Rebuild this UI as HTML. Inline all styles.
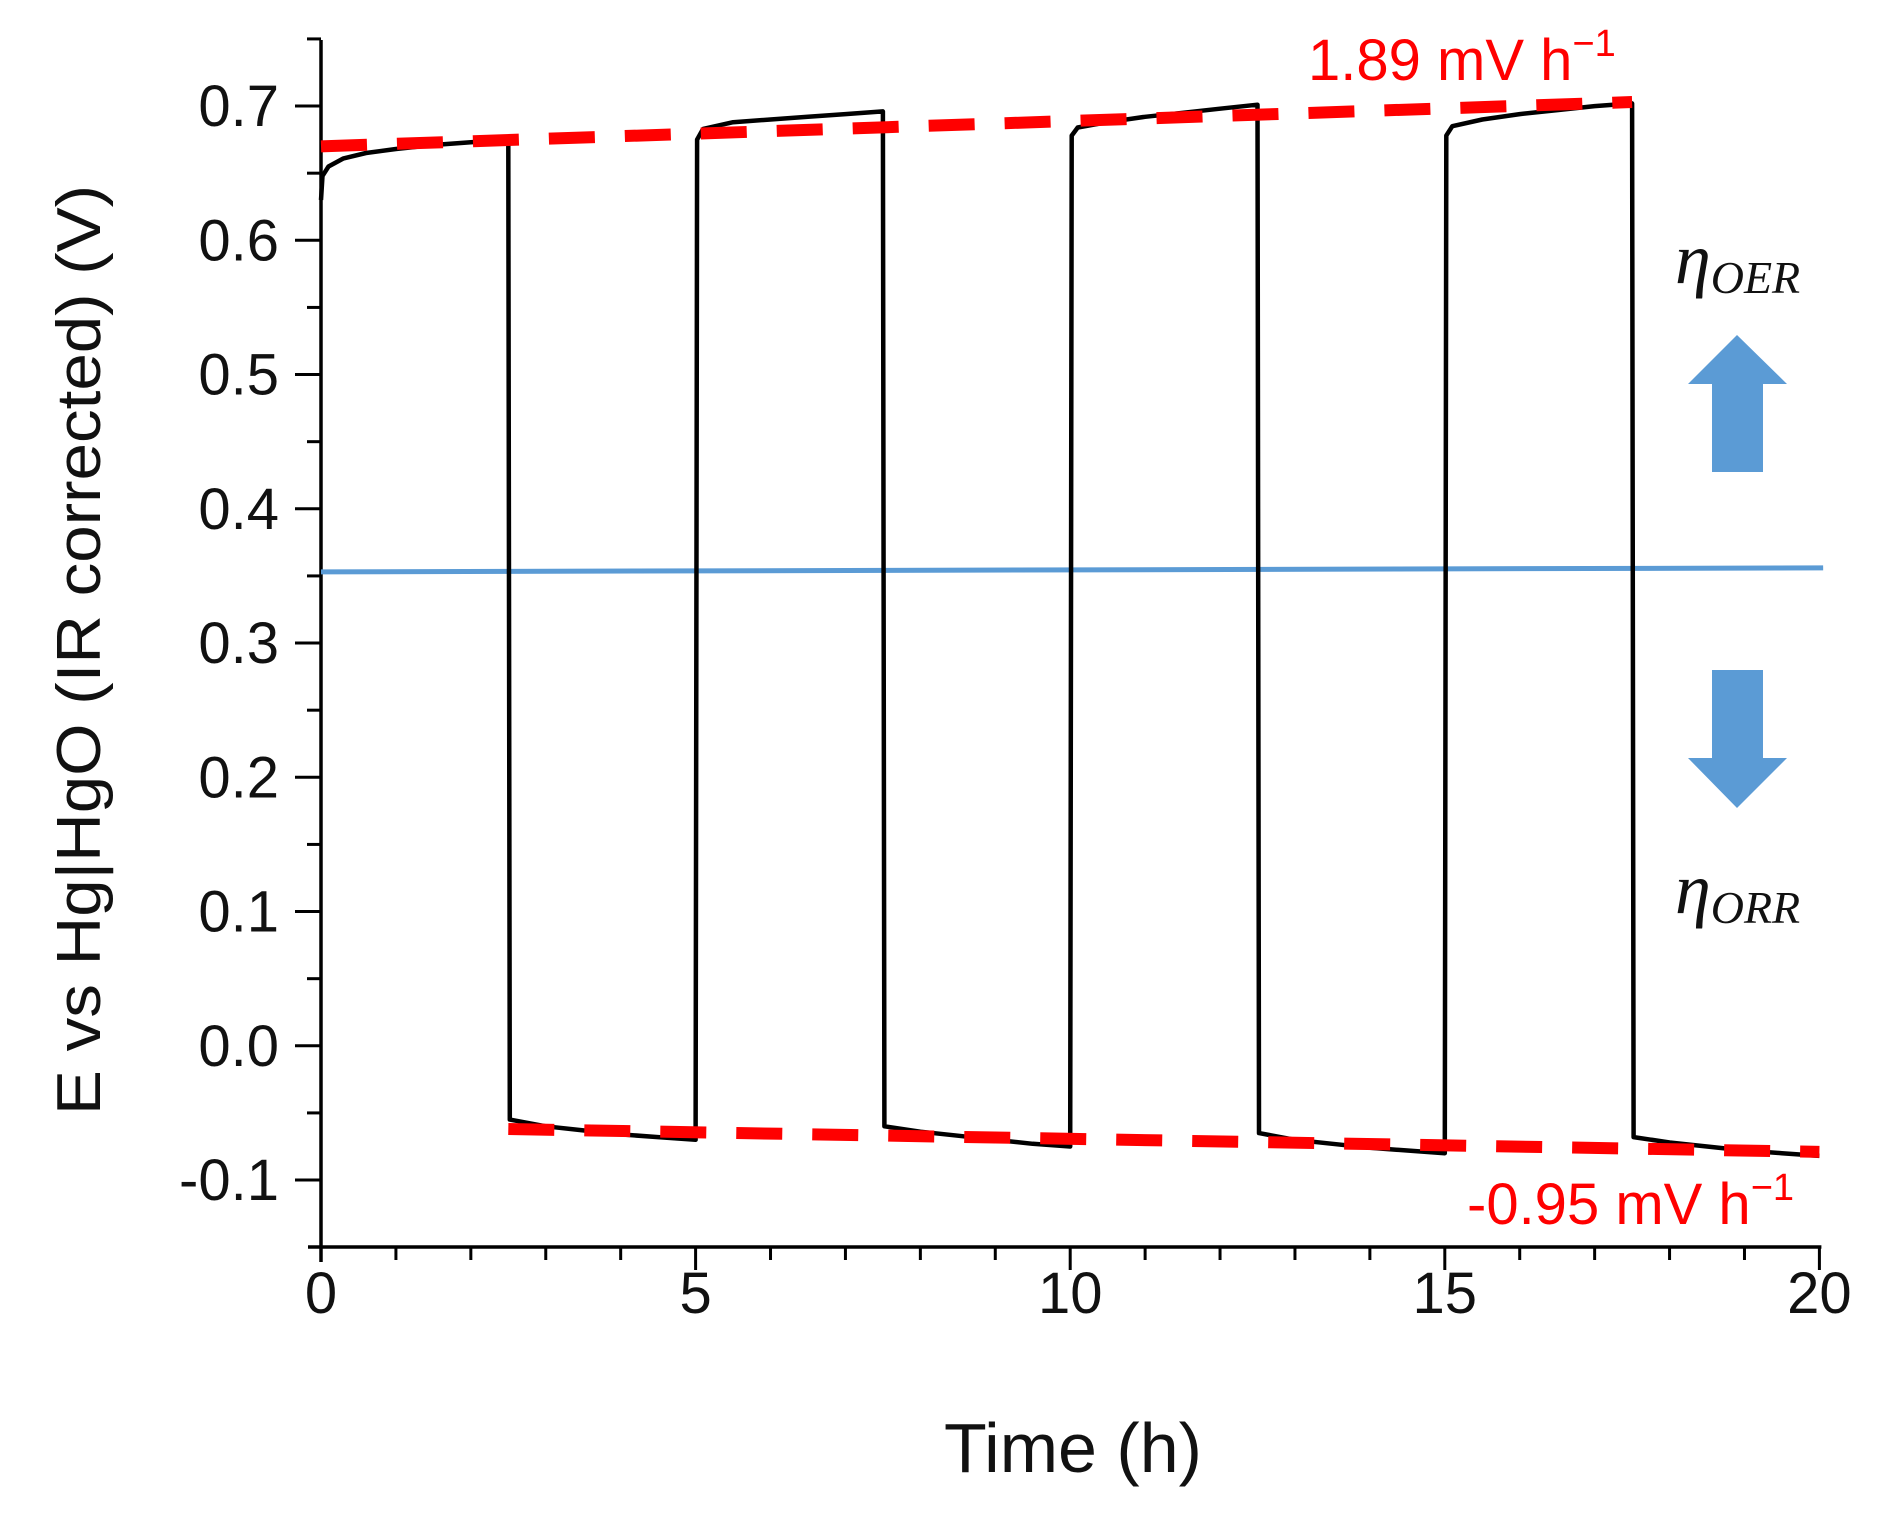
<!DOCTYPE html>
<html><head><meta charset="utf-8"><style>
html,body{margin:0;padding:0;background:#fff;}
svg{display:block;font-family:"Liberation Sans",sans-serif;}
</style></head><body>
<svg id="chart" width="1878" height="1522" viewBox="0 0 1878 1522">
<g id="axes"></g>
<g id="series"></g>
<text x="0" y="0" transform="translate(100,650) rotate(-90)" text-anchor="middle" font-size="62" textLength="930" lengthAdjust="spacingAndGlyphs" fill="#111">E vs Hg|HgO (IR corrected) (V)</text>
<text x="1073" y="1472" text-anchor="middle" font-size="70" fill="#111">Time (h)</text>
<text x="1308" y="80" font-size="58" fill="#f00">1.89 mV h<tspan dy="-24" font-size="38">−1</tspan></text>
<text x="1467" y="1224" font-size="58" fill="#f00">-0.95 mV h<tspan dy="-24" font-size="38">−1</tspan></text>
<text x="1675" y="283" font-family="Liberation Serif,serif" font-style="italic" font-size="72" fill="#111">η<tspan font-size="46" dy="10">OER</tspan></text>
<text x="1675" y="913" font-family="Liberation Serif,serif" font-style="italic" font-size="72" fill="#111">η<tspan font-size="46" dy="10">ORR</tspan></text>
<polygon points="1737,335 1787,384 1763,384 1763,472 1712,472 1712,384 1688,384" fill="#5b9bd5"/>
<polygon points="1712,670 1763,670 1763,758 1787,758 1737,808 1688,758 1712,758" fill="#5b9bd5"/>
</svg>
<script>
const times=[0,0.02,0.1,0.3,0.6,1,1.5,2,2.5, 2.52,3,3.5,4,4.5,5, 5.02,5.1,5.5,6,6.5,7,7.5, 7.52,8,8.5,9,9.5,10, 10.02,10.1,10.5,11,11.5,12,12.5, 12.52,13,13.5,14,14.5,15, 15.02,15.1,15.5,16,16.5,17,17.5, 17.52,18,18.5,19,19.5,20];
const potentials=[0.63,0.648,0.655,0.661,0.665,0.668,0.671,0.673,0.675, -0.055,-0.060,-0.063,-0.066,-0.068,-0.070, 0.675,0.683,0.688,0.690,0.692,0.694,0.696, -0.060,-0.064,-0.067,-0.070,-0.073,-0.075, 0.678,0.684,0.688,0.692,0.695,0.698,0.701, -0.065,-0.070,-0.073,-0.076,-0.078,-0.080, 0.678,0.685,0.690,0.694,0.697,0.700,0.702, -0.068,-0.072,-0.075,-0.078,-0.080,-0.082];
const oerFitT=[0,17.5];
const oerFitV=[0.670,0.703];
const orrFitT=[2.5,20];
const orrFitV=[-0.062,-0.079];
const refT=[0,20.05];
const refV=[0.353,0.356];
const xTicks=[0,5,10,15,20];
const xTickLabels=["0","5","10","15","20"];
const yTicks=[-0.1,0,0.1,0.2,0.3,0.4,0.5,0.6,0.7];
const yTickLabels=["-0.1","0.0","0.1","0.2","0.3","0.4","0.5","0.6","0.7"];

const NS="http://www.w3.org/2000/svg";
const X0=321,XPER=74.92,Y0=1045.8,YPER=1342.5;
function xs(t){return X0+t*XPER;}
function ys(v){return Y0-v*YPER;}
function mk(tag,attrs,parent){const e=document.createElementNS(NS,tag);for(const k in attrs)e.setAttribute(k,attrs[k]);parent.appendChild(e);return e;}
const axes=document.getElementById('axes');
const series=document.getElementById('series');

let a=mk('line',{x1:X0,y1:40,x2:X0,y2:1262,stroke:'#000','stroke-width':3.5},axes);


a=mk('line',{x1:308,y1:1247,x2:xs(20)+2,y2:1247,stroke:'#000','stroke-width':3.5},axes);



for(let t=1;t<=20;t++){
  const major=xTicks.includes(t);
  const tk=mk('line',{x1:xs(t),y1:1247,x2:xs(t),y2:major?1270:1260,stroke:'#000','stroke-width':3},axes);
  
  
}
xTicks.forEach((t,i)=>{
  const tx=mk('text',{x:xs(t),y:1313,'text-anchor':'middle','font-size':58,fill:'#111'},axes);
  tx.textContent=xTickLabels[i];
  
  
});
for(let k=-2;k<=15;k++){
  const v=k*0.05, major=(k%2===0);
  const tk=mk('line',{x1:major?295:307,y1:ys(v),x2:X0,y2:ys(v),stroke:'#000','stroke-width':3},axes);
  
  
}
yTicks.forEach((v,i)=>{
  const tx=mk('text',{x:279,y:ys(v)+20,'text-anchor':'end','font-size':58,fill:'#111'},axes);
  tx.textContent=yTickLabels[i];
  
  
});

let l=mk('line',{x1:xs(refT[0]),y1:ys(refV[0]),x2:xs(refT[1]),y2:ys(refV[1]),stroke:'#5b9bd5','stroke-width':5},series);



const d=times.map((t,i)=>(i?'L':'M')+xs(t).toFixed(1)+','+ys(potentials[i]).toFixed(1)).join(' ');
const p=mk('path',{d:d,fill:'none',stroke:'#000','stroke-width':4.5,'stroke-linejoin':'round'},series);



l=mk('line',{x1:xs(oerFitT[0]),y1:ys(oerFitV[0]),x2:xs(oerFitT[1]),y2:ys(oerFitV[1]),stroke:'#f00','stroke-width':12,'stroke-dasharray':'46 30'},series);


l=mk('line',{x1:xs(orrFitT[0]),y1:ys(orrFitV[0]),x2:xs(orrFitT[1]),y2:ys(orrFitV[1]),stroke:'#f00','stroke-width':12,'stroke-dasharray':'46 30'},series);


</script>
</body></html>
